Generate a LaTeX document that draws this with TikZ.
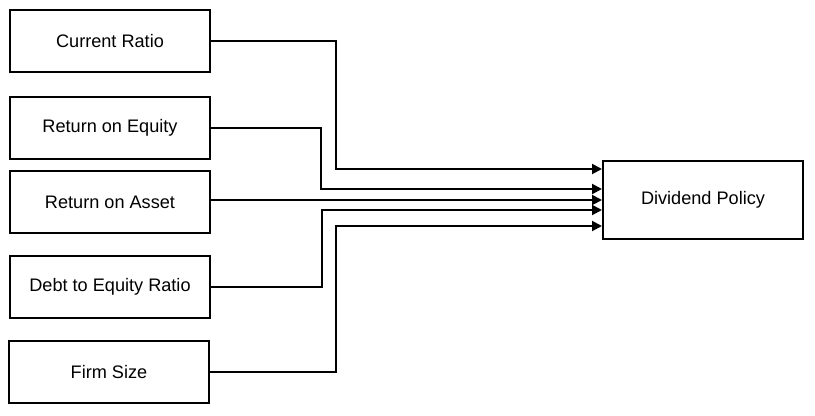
\documentclass[tikz,border=0pt]{standalone}
\usepackage{fontspec}
\setmainfont{Liberation Sans}
\usepackage{tikz}
\usetikzlibrary{positioning, arrows.meta, calc}

\begin{document}
\begin{tikzpicture}[x=0.75pt, y=-0.75pt, font=\fontsize{13.6}{16}\selectfont,
        var/.style={draw, line width=1.5pt, minimum width=150pt, minimum height=47pt, inner sep=0pt, align=center},
        arr/.style={line width=1.5pt, -{Triangle[length=7.5pt, width=7.5pt]}}]
        \useasboundingbox (0,0) rectangle (815,415);
        % independent variables
        \node[var] (cr) at (110,41) {Current Ratio};
        \node[var] (roe) at (110,128) {Return on Equity};
        \node[var] (roa) at (110,202) {Return on Asset};
        \node[var] (der) at (110,287) {Debt to Equity Ratio};
        \node[var] (fs) at (109,372) {Firm Size};
        % dependent variable
        \node[var, minimum height=59pt] (dp) at (703,200) {Dividend Policy};
        \draw[arr] (cr.east) -| (336,100) |- ($(dp.west)+(0,-31)$);
        \draw[arr] (roe.east) -| (321,160) |- ($(dp.west)+(0,-11)$);
        \draw[arr] (roa.east |- dp.west) -- (dp.west);
        \draw[arr] (der.east) -| (322,250) |- ($(dp.west)+(0,10)$);
        \draw[arr] (fs.east) -| (336,300) |- ($(dp.west)+(0,26)$);
      \end{tikzpicture}
\end{document}
